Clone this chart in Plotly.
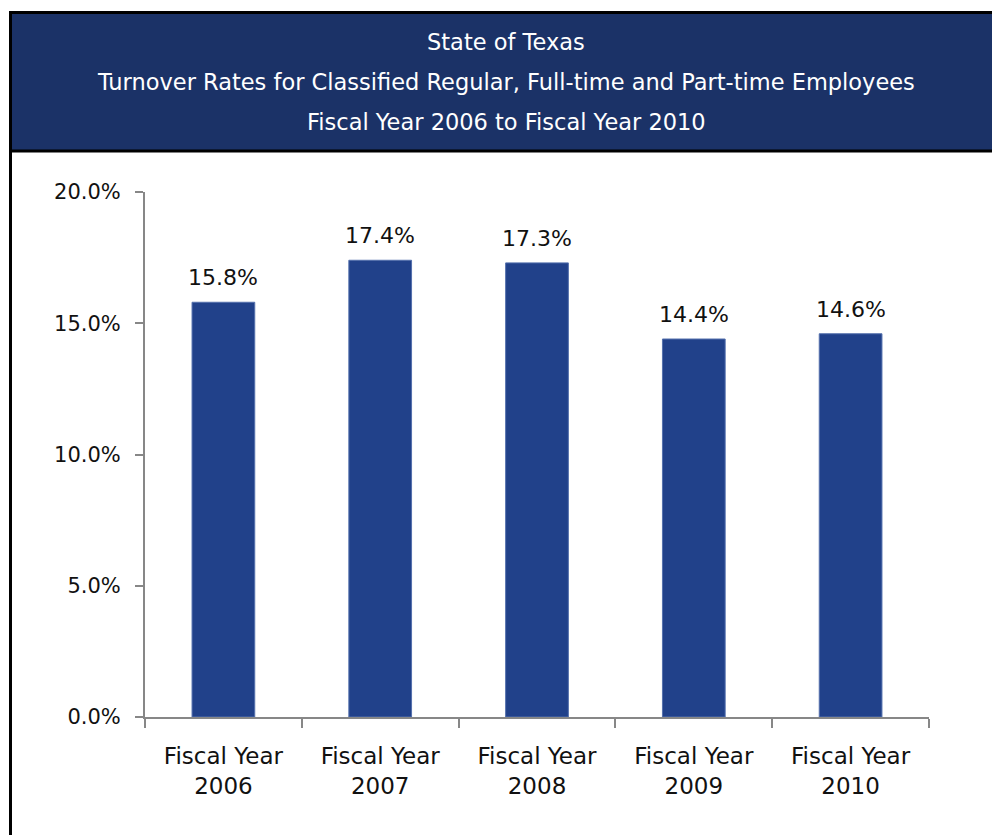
import plotly.graph_objects as go

# Turnover data, fiscal years 2006-2010
categories = ["Fiscal Year<br>2006", "Fiscal Year<br>2007", "Fiscal Year<br>2008",
              "Fiscal Year<br>2009", "Fiscal Year<br>2010"]
turnover_pct = [15.8, 17.4, 17.3, 14.4, 14.6]
y_ticks = [0, 5, 10, 15, 20]
title_lines = [
    "State of Texas",
    "Turnover Rates for Classified Regular, Full-time and Part-time Employees",
    "Fiscal Year 2006 to Fiscal Year 2010",
]

W, H = 992, 835
L, R, T, B = 145, 929, 192, 717  # plot area in pixels
PW, PH = R - L, B - T


def xp(px):
    return (px - L) / PW


def yp(py):
    return (B - py) / PH


HEADER = "#1b3267"
BAR = "#21418a"
AXIS = "#878787"
FONT = "DejaVu Sans"

fig = go.Figure(
    go.Bar(
        x=categories,
        y=turnover_pct,
        width=0.4,
        marker=dict(color=BAR, line=dict(color="#5470ad", width=1)),
        cliponaxis=False,
    )
)

shapes = [
    # header band
    dict(type="rect", xref="paper", yref="paper",
         x0=xp(11), x1=xp(1005), y0=yp(151), y1=yp(13),
         fillcolor=HEADER, line=dict(width=0), layer="below"),
    # frame lines
    dict(type="line", xref="paper", yref="paper",
         x0=xp(9), x1=xp(1005), y0=yp(12.5), y1=yp(12.5),
         line=dict(color="black", width=3)),
    dict(type="line", xref="paper", yref="paper",
         x0=xp(9), x1=xp(1005), y0=yp(151), y1=yp(151),
         line=dict(color="black", width=3)),
    dict(type="line", xref="paper", yref="paper",
         x0=xp(10.5), x1=xp(10.5), y0=yp(11), y1=yp(845),
         line=dict(color="black", width=3)),
]

annotations = []
for i, line in enumerate(title_lines):
    annotations.append(dict(
        text=line, xref="paper", yref="paper",
        x=xp(506), y=yp(42 + 40 * i), xanchor="center", yanchor="middle",
        showarrow=False, font=dict(family=FONT, size=22.5, color="white"),
    ))

# value labels above each bar
for cat, val in zip(categories, turnover_pct):
    annotations.append(dict(
        text=f"{val:.1f}%", x=cat, y=val, xref="x", yref="y",
        xanchor="center", yanchor="bottom", yshift=10, showarrow=False,
        font=dict(family=FONT, size=22, color="#111111"),
    ))

fig.update_layout(
    width=W, height=H,
    margin=dict(l=L, r=W - R, t=T, b=H - B, pad=0),
    paper_bgcolor="white", plot_bgcolor="white",
    showlegend=False,
    shapes=shapes,
    annotations=annotations,
    xaxis=dict(
        type="category",
        showline=True, linecolor=AXIS, linewidth=2,
        ticks="outside", tickson="boundaries", ticklen=9, tickcolor=AXIS, tickwidth=2,
        ticklabelstandoff=17,
        tickfont=dict(family=FONT, size=23, color="#111111"),
        showgrid=False, zeroline=False,
    ),
    yaxis=dict(
        range=[0, 20], tickvals=y_ticks, ticktext=[f"{v:.1f}%" for v in y_ticks],
        showline=True, linecolor=AXIS, linewidth=2,
        ticks="outside", ticklen=8, tickcolor=AXIS, tickwidth=2,
        ticklabelstandoff=10,
        tickfont=dict(family=FONT, size=21, color="#111111"),
        showgrid=False, zeroline=False,
    ),
)

fig.write_html("out.html")
